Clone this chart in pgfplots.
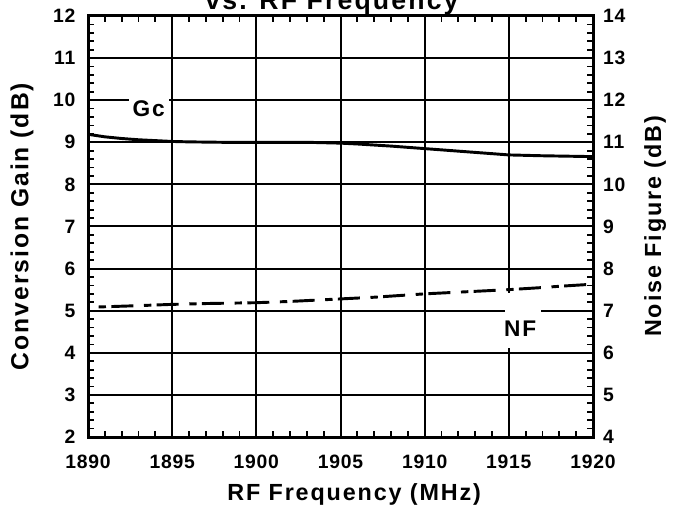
\documentclass[border=0pt]{standalone}
\usepackage{fontspec}
\setmainfont{Liberation Sans}
\newfontfamily\lbl{Liberation Sans}[LetterSpace=8]
\newfontfamily\tck{Liberation Sans}[LetterSpace=4]
\usepackage{pgfplots}
\pgfplotsset{compat=1.18}
\begin{document}
\begin{tikzpicture}
\pgfplotsset{
  common/.style={
    scale only axis, width=378.75pt, height=315.75pt,
    xmin=1890, xmax=1920,
    tick align=inside,
    axis line style={line width=2.25pt},
    /pgf/number format/assume math mode=true,
    /pgf/number format/set thousands separator={},
    ticklabel style={font=\tck\bfseries\fontsize{14.5}{17}\selectfont},
  }
}
\begin{axis}[
  common,
  ymin=2, ymax=12,
  xtick={1890,1895,...,1920}, ytick={2,...,12},
  minor x tick num=4, minor y tick num=4,
  major tick length=0pt, minor tick length=4.5pt,
  every minor tick/.style={black, line width=1.3pt},
  grid=major,
  major grid style={black, line width=1.5pt},
  yticklabel pos=left,
  xticklabel style={yshift=-10pt},
  yticklabel style={xshift=-6pt},
  xlabel={RF Frequency (MHz)},
  ylabel={Conversion Gain (dB)},
  every axis x label/.style={at={(axis description cs:0.527,-0.1354)}, anchor=center, font=\lbl\bfseries\fontsize{17.5}{20}\selectfont},
  every axis y label/.style={at={(axis description cs:-0.1307,0.5)}, anchor=center, rotate=90, font=\lbl\bfseries\fontsize{18.5}{20}\selectfont},
]
\addplot[black, line width=2.2pt] coordinates {
  (1890,9.19) (1891,9.13) (1892,9.09) (1893,9.06) (1894,9.04) (1895,9.02)
  (1896,9.01) (1898,9.0) (1900,9.0) (1903,9.0) (1905,8.98) (1906,8.96)
  (1908,8.91) (1910,8.85) (1912,8.79) (1914,8.73) (1915,8.70) (1917,8.68)
  (1920,8.66)
};
\node[fill=white, inner sep=3pt, font=\lbl\bfseries\fontsize{17}{20}\selectfont] at (axis cs:1893.6,9.79) {Gc};
\fill[white] (axis cs:1914.8,5.42) rectangle (axis cs:1916.9,4.11);
\node[inner sep=0pt, font=\lbl\bfseries\fontsize{17}{20}\selectfont] at (axis cs:1915.67,4.57) {NF};
\end{axis}
\begin{axis}[
  common,
  ymin=4, ymax=14,
  ytick={4,...,14},
  hide x axis,
  axis y line*=right,
  major tick length=0pt,
  yticklabel pos=right,
  yticklabel style={xshift=4pt},
  ylabel={Noise Figure (dB)},
  every axis y label/.style={at={(axis description cs:1.1228,0.5)}, anchor=center, rotate=90, font=\lbl\bfseries\fontsize{17.5}{20}\selectfont},
]
\addplot[black, line width=2.2pt, dash pattern=on 5.5pt off 4pt on 16.5pt off 8pt, dash phase=26pt] coordinates {
  (1890,7.08) (1893,7.12) (1895,7.15) (1897,7.17) (1900,7.19) (1902,7.22)
  (1905,7.28) (1907,7.32) (1910,7.40) (1912,7.44) (1915,7.50) (1917,7.55)
  (1918,7.58) (1920,7.63)
};
\end{axis}
\node[anchor=base, font=\lbl\bfseries\fontsize{20}{24}\selectfont] at (183pt,320.6pt) {vs. RF Frequency};
\pgfresetboundingbox
\useasboundingbox (-66pt,-54pt) rectangle (438.75pt,327.75pt);
\end{tikzpicture}
\end{document}
